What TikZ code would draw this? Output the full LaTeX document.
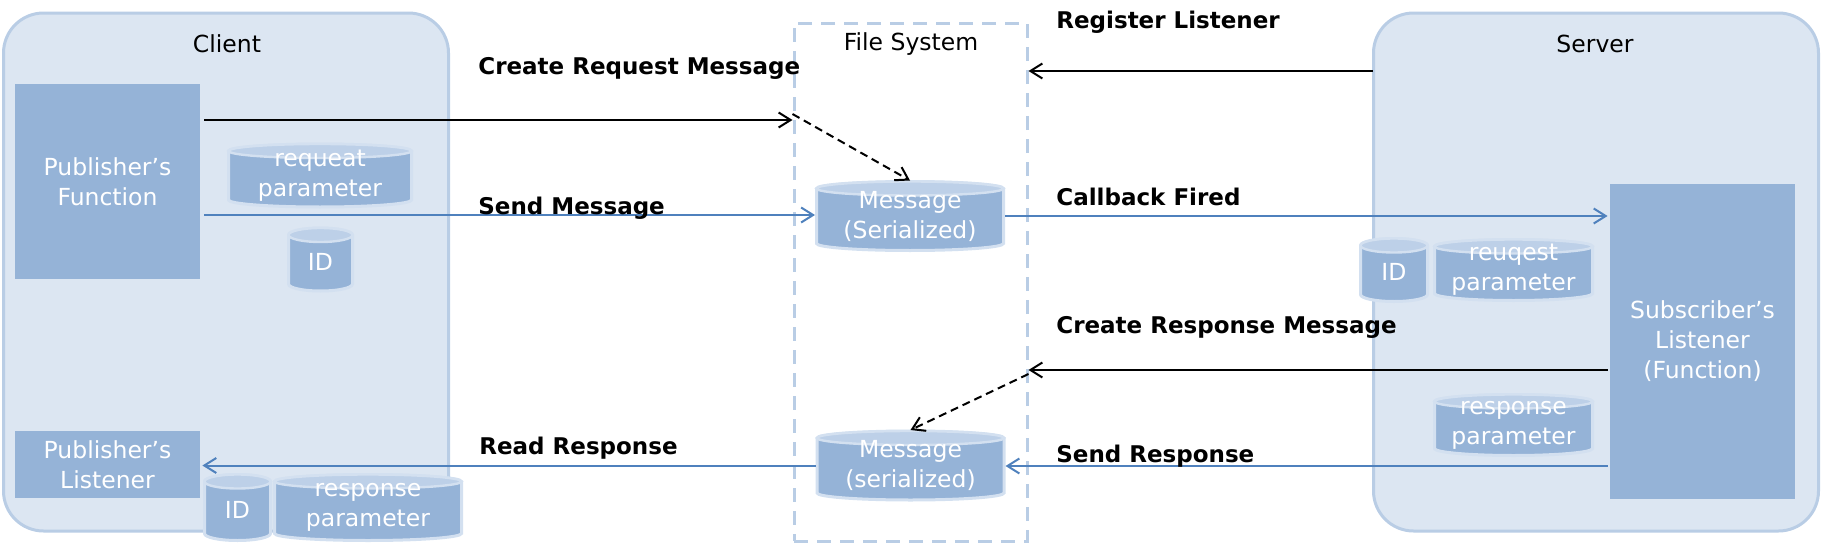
\documentclass[tikz,border=0pt]{standalone}
\usepackage{fontspec}
\setmainfont{DejaVu Sans}
\usetikzlibrary{arrows.meta,calc}
\definecolor{boxfill}{HTML}{DCE6F2}
\definecolor{boxline}{HTML}{B9CDE5}
\definecolor{dark}{HTML}{95B3D7}
\definecolor{cyltop}{HTML}{BDD0E8}
\definecolor{cylline}{HTML}{D3E0F0}
\definecolor{arrblue}{HTML}{4F81BD}
\newcommand\cylfill[1]{%
 \path[draw=cylline, line width=1.5pt, fill=dark] let \p1=($(#1.east)-(#1.west)$), \n1={0.5*\x1} in
  ([yshift=-3.5pt]#1.north west) -- ([yshift=3.5pt]#1.south west)
  arc[start angle=180, end angle=360, x radius={\n1*1pt}, y radius=3.5pt]
  -- ([yshift=-3.5pt]#1.north east)
  arc[start angle=0, end angle=180, x radius={\n1*1pt}, y radius=3.5pt] -- cycle;
 \path[draw=cylline, line width=1.2pt, fill=cyltop] let \p1=($(#1.east)-(#1.west)$), \n1={0.5*\x1} in
  ([yshift=-3.5pt]#1.north) ellipse[x radius={\n1*1pt}, y radius=3.5pt];
}
\begin{document}
\begin{tikzpicture}[x=0.5pt,y=-0.5pt,
 region/.style={draw=boxline, fill=boxfill, line width=1.5pt, rounded corners=20pt, minimum width=222.5pt, minimum height=259pt, inner sep=0pt},
 fsbox/.style={draw=boxline, line width=1.5pt, dash pattern=on 7pt off 4.5pt, minimum width=116.5pt, minimum height=259pt, inner sep=0pt},
 title/.style={font=\fontsize{11.75}{15}\selectfont, anchor=base, inner sep=0pt},
 func/.style={fill=dark, text=white, align=center, font=\fontsize{11.75}{15}\selectfont, minimum width=92.5pt, inner sep=0pt},
 dbbox/.style={rectangle, draw=none, inner sep=0pt, outer sep=0pt},
 dbtext/.style={text=white, align=center, font=\fontsize{11.75}{15}\selectfont, inner sep=0pt},
 lbl/.style={font=\fontsize{11.5}{14}\selectfont\bfseries, anchor=base west, inner sep=0pt},
 tipb/.style={-{Straight Barb[length=6pt,width=7.5pt]}},
 blk/.style={draw=black, line width=1pt, tipb},
 blu/.style={draw=arrblue, line width=1pt, tipb},
 dsh/.style={draw=black, line width=1pt, dash pattern=on 4pt off 2.5pt, tipb},
]
\useasboundingbox (0,0) rectangle (1822,557);
% regions
\node[region] (client) at (226,272) {};
\node[region] (server) at (1596,272) {};
\node[fsbox] (fs) at (910.5,282) {};
\node[title] (clientt) at (227,52) {Client};
\node[title] (servert) at (1595,52) {Server};
\node[title] (fst) at (911,50) {File System};
% function boxes
\node[func, minimum height=97.5pt] (pubfn) at (107.5,181.5) {Publisher’s\\Function};
\node[func, minimum height=33.5pt] (publ) at (107.5,464.5) {Publisher’s\\Listener};
\node[func, minimum height=157.5pt] (sub) at (1702.5,341.5) {Subscriber’s\\Listener\\(Function)};
% cylinders
\node[dbbox, minimum width=91.5pt, minimum height=31.5pt] (reqp) at (320,175.5) {};
\cylfill{reqp}
\node[dbtext] (reqpt) at (reqp) {requeat\\parameter};
\node[dbbox, minimum width=32pt, minimum height=31.5pt] (id1) at (320.5,259.5) {};
\cylfill{id1}
\node[dbtext] (id1t) at ([yshift=-1pt]id1) {ID};
\node[dbbox, minimum width=33pt, minimum height=33pt] (id2) at (237.5,507.5) {};
\cylfill{id2}
\node[dbtext] (id2t) at ([yshift=-1pt]id2) {ID};
\node[dbbox, minimum width=93.5pt, minimum height=33pt] (resp1) at (368,507.5) {};
\cylfill{resp1}
\node[dbtext] (resp1t) at (resp1) {response\\parameter};
\node[dbbox, minimum width=93.5pt, minimum height=34.5pt] (msg1) at (910,216) {};
\cylfill{msg1}
\node[dbtext] (msg1t) at (msg1) {Message\\(Serialized)};
\node[dbbox, minimum width=93.5pt, minimum height=34.5pt] (msg2) at (910.5,465.5) {};
\cylfill{msg2}
\node[dbtext] (msg2t) at (msg2) {Message\\(serialized)};
\node[dbbox, minimum width=33.5pt, minimum height=31.5pt] (sid) at (1394,270) {};
\cylfill{sid}
\node[dbtext] (sidt) at ([yshift=-1pt]sid) {ID};
\node[dbbox, minimum width=79pt, minimum height=30.5pt] (sreq) at (1513.5,270) {};
\cylfill{sreq}
\node[dbtext] (sreqt) at (sreq) {reuqest\\parameter};
\node[dbbox, minimum width=79pt, minimum height=30.5pt] (sresp) at (1513.5,425) {};
\cylfill{sresp}
\node[dbtext] (srespt) at (sresp) {response\\parameter};
% connectors
\coordinate (crs) at ([xshift=2pt,yshift=30.75pt]pubfn.east);
\draw[blk] (crs) -- (crs -| fs.west);
\draw[dsh] ([yshift=3pt]crs -| fs.west) -- ([yshift=0.5pt]msg1.north);
\coordinate (sms) at ([xshift=2pt,yshift=-16.75pt]pubfn.east);
\draw[blu] (sms) -- ([xshift=-0.75pt]sms -| msg1.west);
\coordinate (rls) at (1373,71);
\draw[blk] (rls) -- (rls -| fs.east);
\draw[blu] ([xshift=0.75pt]msg1.east) -- ([xshift=-1pt]msg1.east -| sub.west);
\coordinate (crr) at ([xshift=-1pt,yshift=-14.25pt]sub.west);
\draw[blk] (crr) -- (crr -| fs.east);
\draw[dsh] ([yshift=-2pt]crr -| fs.east) -- ([yshift=0.5pt]msg2.north);
\coordinate (srr) at ([xshift=-1pt,yshift=-62.25pt]sub.west);
\draw[blu] (srr) -- ([xshift=0.75pt]srr -| msg2.east);
\draw[blu] ([xshift=-0.75pt]msg2.west) -- ([xshift=1pt]msg2.west -| publ.east);
% labels
\node[lbl] (crm) at (478,74) {Create Request Message};
\node[lbl] (smg) at (478,214) {Send Message};
\node[lbl] (rrs) at (479,454) {Read Response};
\node[lbl] (rgl) at (1056,28) {Register Listener};
\node[lbl] (cbf) at (1056,205) {Callback Fired};
\node[lbl] (crsm) at (1056,333) {Create Response Message};
\node[lbl] (srs) at (1056,462) {Send Response};
\end{tikzpicture}
\end{document}
